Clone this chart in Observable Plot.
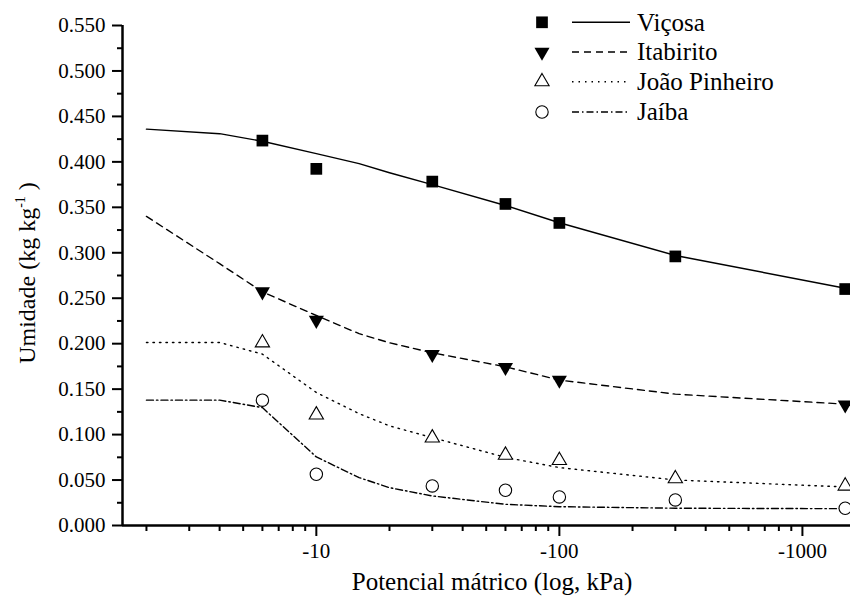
<!DOCTYPE html>
<html>
<head>
<meta charset="utf-8">
<script src="https://cdn.jsdelivr.net/npm/d3@7"></script>
<script src="https://cdn.jsdelivr.net/npm/@observablehq/plot@0.6"></script>
<style>
  html, body { margin: 0; padding: 0; background: #fff; }
  #chart { position: relative; width: 850px; height: 606px; }
  #chart svg, #chart svg text, #chart svg tspan { font-family: "Liberation Serif", "DejaVu Serif", serif !important; }
</style>
</head>
<body>
<div id="chart"></div>
<script>
// ---- Measured data (matric potential, kPa; moisture, kg kg-1) ----
const potentials = [-6, -10, -30, -60, -100, -300, -1500];
const vicosa = [0.4234, 0.3923, 0.3783, 0.3537, 0.3328, 0.296, 0.2601];
const itabiritoPotentials = [-6, -10, -30, -60, -100, -1500];
const itabirito = [0.2572, 0.2258, 0.1883, 0.174, 0.160, 0.1327];
const joaoPinheiro = [0.201, 0.1217, 0.0964, 0.0774, 0.0716, 0.0515, 0.0435];
const jaiba = [0.1379, 0.0564, 0.0435, 0.0388, 0.0314, 0.0281, 0.019];

// ---- Fitted curves ----
const curvePotentials = [-2, -4, -6, -10, -15, -20, -30, -60, -100, -300, -1500, -1600];
const vicosaFit = [0.436, 0.431, 0.4227, 0.409, 0.398, 0.388, 0.375, 0.352, 0.333, 0.297, 0.261, 0.260];
const itabiritoFit = [0.340, 0.288, 0.257, 0.231, 0.211, 0.201, 0.190, 0.1746, 0.160, 0.1445, 0.1335, 0.133];
const joaoPinheiroFit = [0.2013, 0.2013, 0.1885, 0.1463, 0.123, 0.1096, 0.0967, 0.075, 0.0637, 0.0501, 0.0424, 0.042];
const jaibaFit = [0.1379, 0.1379, 0.1297, 0.0754, 0.0527, 0.0416, 0.0325, 0.0233, 0.0207, 0.019, 0.0185, 0.0185];

const seriesNames = ["Viçosa", "Itabirito", "João Pinheiro", "Jaíba"];

// ---- Ticks ----
const xMajorTicks = [-10, -100, -1000];
const xMinorTicks = [-2,-3,-4,-5,-6,-7,-8,-9,-20,-30,-40,-50,-60,-70,-80,-90,-200,-300,-400,-500,-600,-700,-800,-900];
const yMajorTicks = [0, 0.05, 0.10, 0.15, 0.20, 0.25, 0.30, 0.35, 0.40, 0.45, 0.50, 0.55];
const yMinorTicks = [0.025, 0.075, 0.125, 0.175, 0.225, 0.275, 0.325, 0.375, 0.425, 0.475, 0.525];
const xTitle = "Potencial mátrico (log, kPa)";
const yTitle = "Umidade (kg kg";

// ---- Build tables ----
const pts = (xs, ys) => xs.map((x, i) => ({x, y: ys[i]}));
const vicosaPts = pts(potentials, vicosa);
const itabiritoPts = pts(itabiritoPotentials, itabirito);
const joaoPts = pts(potentials, joaoPinheiro);
const jaibaPts = pts(potentials, jaiba);
const vicosaLine = pts(curvePotentials, vicosaFit);
const itabiritoLine = pts(curvePotentials, itabiritoFit);
const joaoLine = pts(curvePotentials, joaoPinheiroFit);
const jaibaLine = pts(curvePotentials, jaibaFit);

const triangleDown = {
  draw(ctx, size) {
    const y = -Math.sqrt(size / (Math.sqrt(3) * 3));
    ctx.moveTo(0, -y * 2);
    ctx.lineTo(-Math.sqrt(3) * y, y);
    ctx.lineTo(Math.sqrt(3) * y, y);
    ctx.closePath();
  }
};

const styles = {
  "Viçosa": {dash: null, symbol: "square", r: 6.6, fill: "black", stroke: "none"},
  "Itabirito": {dash: "7,5", symbol: triangleDown, r: 5.6, fill: "black", stroke: "none"},
  "João Pinheiro": {dash: "1.5,5", symbol: "triangle", r: 5.3, fill: "white", stroke: "black"},
  "Jaíba": {dash: "7,3,1.5,3", symbol: "circle", r: 6.2, fill: "white", stroke: "black"}
};

const lineOf = (data, name) => Plot.line(data, {x: "x", y: "y", stroke: "black", strokeWidth: 1.4,
  strokeDasharray: styles[name].dash, clip: true});
const dotOf = (data, name) => Plot.dot(data, {x: "x", y: "y", symbol: styles[name].symbol, r: styles[name].r,
  fill: styles[name].fill, stroke: styles[name].stroke, strokeWidth: 1.1});

const fmt = d3.format(".3f");
const chart = Plot.plot({
  width: 850,
  height: 606,
  marginLeft: 122,
  marginRight: 0,
  marginTop: 25,
  marginBottom: 81,
  style: {fontFamily: "Liberation Serif, DejaVu Serif, serif", fontSize: "21px", color: "#000", background: "#fff", overflow: "visible"},
  x: {type: "log", domain: [-1.594, -1577]},
  y: {domain: [0, 0.55]},
  marks: [
    lineOf(vicosaLine, "Viçosa"),
    lineOf(itabiritoLine, "Itabirito"),
    lineOf(joaoLine, "João Pinheiro"),
    lineOf(jaibaLine, "Jaíba"),
    dotOf(vicosaPts, "Viçosa"),
    dotOf(itabiritoPts, "Itabirito"),
    dotOf(joaoPts, "João Pinheiro"),
    dotOf(jaibaPts, "Jaíba"),
    Plot.axisX(xMajorTicks, {tickSize: 11, tickPadding: 7, strokeWidth: 2, tickFormat: d => String(d), label: null, fontSize: 21}),
    Plot.axisX(xMinorTicks, {tickSize: 6, strokeWidth: 2, tickFormat: () => "", label: null}),
    Plot.axisY(yMajorTicks, {tickSize: 10, tickPadding: 7, strokeWidth: 2, tickFormat: fmt, label: null, fontSize: 21}),
    Plot.axisY(yMinorTicks, {tickSize: 5, strokeWidth: 2, tickFormat: () => "", label: null}),
    Plot.ruleY([0], {stroke: "black", strokeWidth: 2.5}),
    Plot.ruleX([-1.594], {stroke: "black", strokeWidth: 2.5})
  ]
});

const svg = d3.select(chart);
svg.attr("font-family", "Liberation Serif, DejaVu Serif, serif");
// Axis titles
svg.append("text")
  .attr("x", 492).attr("y", 590)
  .attr("text-anchor", "middle")
  .attr("font-size", 25).attr("fill", "black")
  .text(xTitle);
const yt = svg.append("text")
  .attr("transform", "translate(35,273) rotate(-90)")
  .attr("text-anchor", "middle")
  .attr("font-size", 24).attr("fill", "black");
yt.append("tspan").text(yTitle);
yt.append("tspan").attr("font-size", 14).attr("dy", -10).text("-1");
yt.append("tspan").attr("dy", 10).text(" )");

// Legend
const legendRows = [22.3, 52, 81.7, 112];
const symbolTypes = {square: d3.symbolSquare, triangle: d3.symbolTriangle, circle: d3.symbolCircle};
const lg = svg.append("g");
seriesNames.forEach((name, i) => {
  const s = styles[name];
  const cy = legendRows[i];
  lg.append("path")
    .attr("d", d3.symbol(typeof s.symbol === "string" ? symbolTypes[s.symbol] : s.symbol, Math.PI * s.r * s.r)())
    .attr("transform", `translate(542,${cy})`)
    .attr("fill", s.fill).attr("stroke", s.stroke).attr("stroke-width", 1.1);
  lg.append("line")
    .attr("x1", 572).attr("x2", 630).attr("y1", cy).attr("y2", cy)
    .attr("stroke", "black").attr("stroke-width", 1.4)
    .attr("stroke-dasharray", s.dash);
  lg.append("text")
    .attr("x", 637).attr("y", cy + 8.4)
    .attr("text-anchor", "start")
    .attr("font-size", 25).attr("fill", "black")
    .text(name);
});

document.getElementById("chart").appendChild(chart);
</script>
</body>
</html>
